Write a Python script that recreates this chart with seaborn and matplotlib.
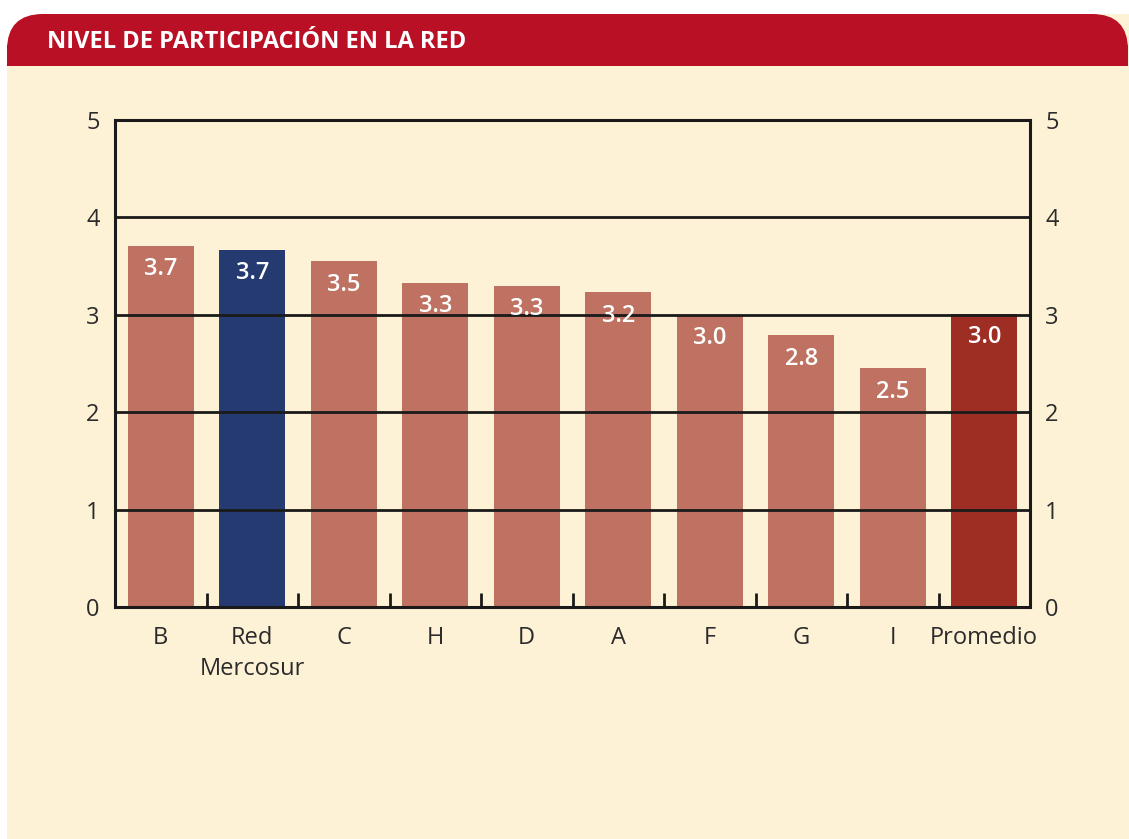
import matplotlib
matplotlib.use("Agg")
import matplotlib.pyplot as plt
import seaborn as sns
import pandas as pd
from matplotlib.patches import FancyBboxPatch, Rectangle
from matplotlib.ticker import FixedLocator

categories = ["B", "Red\nMercosur", "C", "H", "D", "A", "F", "G", "I", "Promedio"]
values = [3.71, 3.67, 3.55, 3.33, 3.30, 3.23, 3.00, 2.79, 2.45, 3.01]
labels = ["3.7", "3.7", "3.5", "3.3", "3.3", "3.2", "3.0", "2.8", "2.5", "3.0"]
colors = ["#BF7261", "#243A70", "#BF7261", "#BF7261", "#BF7261", "#BF7261",
          "#BF7261", "#BF7261", "#BF7261", "#9E2D24"]
yticks = [0, 1, 2, 3, 4, 5]
title = "NIVEL DE PARTICIPACIÓN EN LA RED"

sns.set_theme(style="white")
plt.rcParams["font.family"] = ["Open Sans", "DejaVu Sans"]

W, H = 1129, 839
fig = plt.figure(figsize=(W / 100, H / 100), dpi=100)
fig.patch.set_facecolor("white")

# background panel
bg = fig.add_axes([0, 0, 1, 1], zorder=0)
bg.set_xlim(0, W)
bg.set_ylim(H, 0)
bg.axis("off")
cream = "#FEF2D6"
red = "#B91025"
bg.add_patch(FancyBboxPatch((7, 14), W + 60, H + 60,
                            boxstyle="round,pad=0,rounding_size=36",
                            facecolor=cream, edgecolor="none"))
bg.add_patch(FancyBboxPatch((7, 14), W - 7 - 1, 120,
                            boxstyle="round,pad=0,rounding_size=36",
                            facecolor=red, edgecolor="none"))
bg.add_patch(Rectangle((7, 45), W, 120, facecolor=cream, edgecolor="none"))
bg.add_patch(Rectangle((7, 45), W - 8, 21, facecolor=red, edgecolor="none"))
bg.text(47, 42, title, color="white", fontsize=17, fontweight="bold",
        va="center", ha="left", family=["Open Sans", "DejaVu Sans"])

# main chart
ax = fig.add_axes([115 / W, 1 - 607 / H, (1030 - 115) / W, (607 - 120) / H], zorder=2)
ax.set_facecolor("none")
df = pd.DataFrame({"cat": categories, "val": values})
sns.barplot(data=df, x="cat", y="val", hue="cat", palette=colors,
            legend=False, width=0.72, saturation=1, linewidth=0,
            ax=ax, zorder=1)

ax.set_xlim(-0.5, len(categories) - 0.5)
ax.set_ylim(0, 5)
ax.set_xlabel("")
ax.set_ylabel("")
ax.set_yticks(yticks)
ax.set_yticklabels([str(t) for t in yticks])
ax.yaxis.grid(True, color="#1a1a1a", linewidth=2)
ax.xaxis.grid(False)
ax.set_axisbelow(False)
for s in ax.spines.values():
    s.set_visible(True)
    s.set_color("#1a1a1a")
    s.set_linewidth(2.2)
    s.set_zorder(3)

ax.xaxis.set_minor_locator(FixedLocator([i + 0.5 for i in range(len(categories) - 1)]))
ax.tick_params(axis="x", which="both", bottom=True)
ax.tick_params(axis="x", which="major", length=0, pad=14, labelsize=17, labelcolor="#2b2b2b")
ax.tick_params(axis="x", which="minor", direction="in", length=10, width=2, color="#1a1a1a")
ax.tick_params(axis="y", which="major", length=0, pad=11, labelsize=17, labelcolor="#2b2b2b",
               labelleft=True, labelright=True)
for t in ax.get_xticklabels():
    t.set_linespacing(1.38)
    t.set_va("top")

for i, (v, lab) in enumerate(zip(values, labels)):
    ax.annotate(lab, (i, v), xytext=(0, -17), textcoords="offset points",
                ha="center", va="center", color="white", fontsize=17,
                fontweight="semibold", zorder=5)

fig.savefig("out.png", dpi=100, facecolor=fig.get_facecolor())
